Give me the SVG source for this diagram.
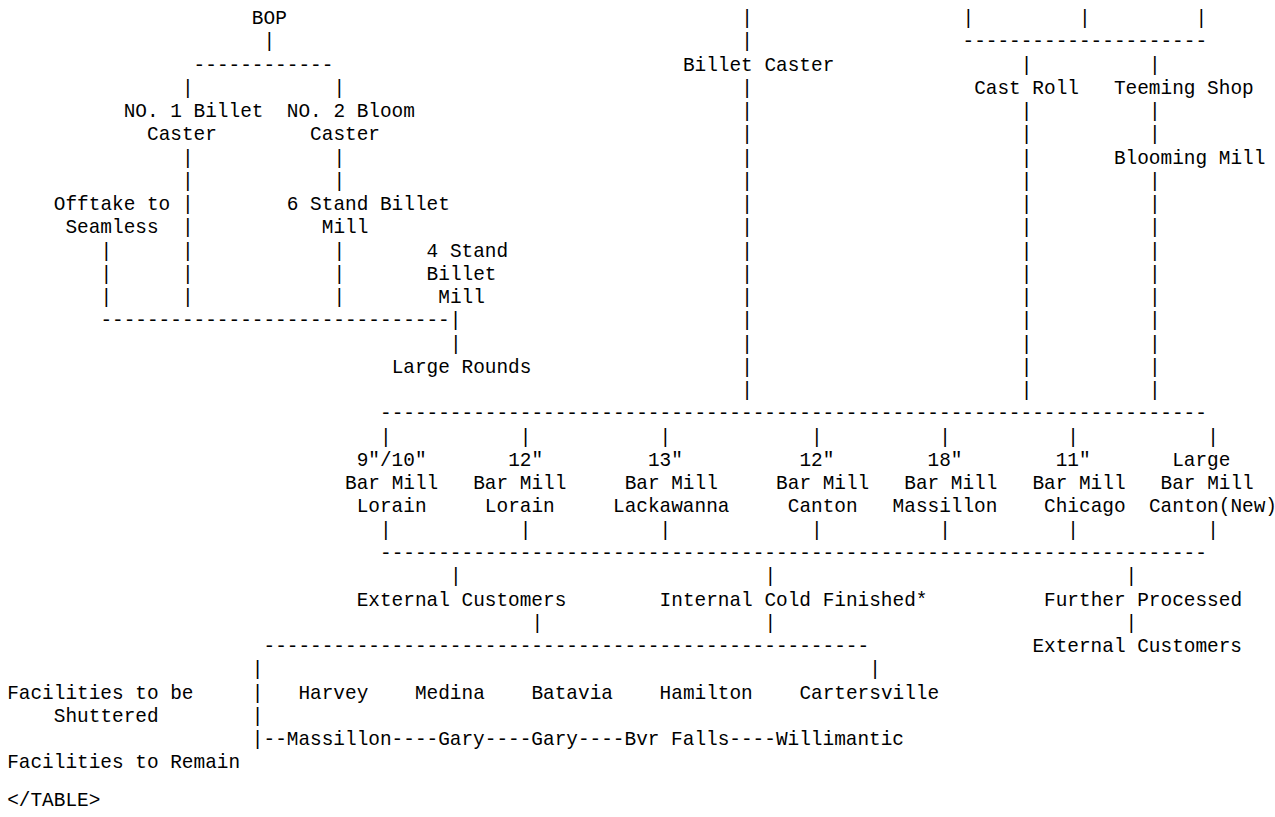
<svg xmlns="http://www.w3.org/2000/svg" width="1275" height="817" viewBox="0 0 1275 817">
<style>
text { font-family: "Liberation Mono", "Courier New", monospace; font-size: 19.42px; fill: #000; white-space: pre; }
</style>
<rect width="1275" height="817" fill="#fff"/>
<g id="connectors">
  <text x="263.5" y="47.26">|</text>
  <text x="193.6" y="70.52">------------</text>
  <text><tspan x="181.95" y="93.78">|</tspan><tspan x="181.95" y="163.56">|</tspan><tspan x="181.95" y="186.82">|</tspan><tspan x="181.95" y="210.08">|</tspan><tspan x="181.95" y="233.34">|</tspan><tspan x="181.95" y="256.6">|</tspan><tspan x="181.95" y="279.86">|</tspan><tspan x="181.95" y="303.12">|</tspan></text>
  <text><tspan x="333.4" y="93.78">|</tspan><tspan x="333.4" y="163.56">|</tspan><tspan x="333.4" y="186.82">|</tspan><tspan x="333.4" y="256.6">|</tspan><tspan x="333.4" y="279.86">|</tspan><tspan x="333.4" y="303.12">|</tspan></text>
  <text><tspan x="100.4" y="256.6">|</tspan><tspan x="100.4" y="279.86">|</tspan><tspan x="100.4" y="303.12">|</tspan></text>
  <text x="100.4" y="326.38">------------------------------|</text>
  <text x="449.9" y="349.64">|</text>
  <text><tspan x="741.15" y="24">|</tspan><tspan x="741.15" y="47.26">|</tspan><tspan x="741.15" y="93.78">|</tspan><tspan x="741.15" y="117.04">|</tspan><tspan x="741.15" y="140.3">|</tspan><tspan x="741.15" y="163.56">|</tspan><tspan x="741.15" y="186.82">|</tspan><tspan x="741.15" y="210.08">|</tspan><tspan x="741.15" y="233.34">|</tspan><tspan x="741.15" y="256.6">|</tspan><tspan x="741.15" y="279.86">|</tspan><tspan x="741.15" y="303.12">|</tspan><tspan x="741.15" y="326.38">|</tspan><tspan x="741.15" y="349.64">|</tspan><tspan x="741.15" y="372.9">|</tspan><tspan x="741.15" y="396.16">|</tspan></text>
  <text><tspan x="962.5" y="24">|</tspan><tspan x="1079" y="24">|</tspan><tspan x="1195.5" y="24">|</tspan></text>
  <text x="962.5" y="47.26">---------------------</text>
  <text><tspan x="1020.75" y="70.52">|</tspan><tspan x="1020.75" y="117.04">|</tspan><tspan x="1020.75" y="140.3">|</tspan><tspan x="1020.75" y="163.56">|</tspan><tspan x="1020.75" y="186.82">|</tspan><tspan x="1020.75" y="210.08">|</tspan><tspan x="1020.75" y="233.34">|</tspan><tspan x="1020.75" y="256.6">|</tspan><tspan x="1020.75" y="279.86">|</tspan><tspan x="1020.75" y="303.12">|</tspan><tspan x="1020.75" y="326.38">|</tspan><tspan x="1020.75" y="349.64">|</tspan><tspan x="1020.75" y="372.9">|</tspan><tspan x="1020.75" y="396.16">|</tspan></text>
  <text><tspan x="1148.9" y="70.52">|</tspan><tspan x="1148.9" y="117.04">|</tspan><tspan x="1148.9" y="140.3">|</tspan><tspan x="1148.9" y="186.82">|</tspan><tspan x="1148.9" y="210.08">|</tspan><tspan x="1148.9" y="233.34">|</tspan><tspan x="1148.9" y="256.6">|</tspan><tspan x="1148.9" y="279.86">|</tspan><tspan x="1148.9" y="303.12">|</tspan><tspan x="1148.9" y="326.38">|</tspan><tspan x="1148.9" y="349.64">|</tspan><tspan x="1148.9" y="372.9">|</tspan><tspan x="1148.9" y="396.16">|</tspan></text>
  <text x="380" y="419.42">-----------------------------------------------------------------------</text>
  <text><tspan x="380" y="442.68">|</tspan><tspan x="519.8" y="442.68">|</tspan><tspan x="659.6" y="442.68">|</tspan><tspan x="811.05" y="442.68">|</tspan><tspan x="939.2" y="442.68">|</tspan><tspan x="1067.35" y="442.68">|</tspan><tspan x="1207.15" y="442.68">|</tspan></text>
  <text><tspan x="380" y="535.72">|</tspan><tspan x="519.8" y="535.72">|</tspan><tspan x="659.6" y="535.72">|</tspan><tspan x="811.05" y="535.72">|</tspan><tspan x="939.2" y="535.72">|</tspan><tspan x="1067.35" y="535.72">|</tspan><tspan x="1207.15" y="535.72">|</tspan></text>
  <text x="380" y="558.98">-----------------------------------------------------------------------</text>
  <text><tspan x="449.9" y="582.24">|</tspan><tspan x="764.45" y="582.24">|</tspan><tspan x="1125.6" y="582.24">|</tspan></text>
  <text><tspan x="531.45" y="628.76">|</tspan><tspan x="764.45" y="628.76">|</tspan><tspan x="1125.6" y="628.76">|</tspan></text>
  <text x="263.5" y="652.02">----------------------------------------------------</text>
  <text><tspan x="251.85" y="675.28">|</tspan><tspan x="869.3" y="675.28">|</tspan><tspan x="251.85" y="698.54">|</tspan><tspan x="251.85" y="721.8">|</tspan></text>
</g>
<g id="bop"><text x="251.85" y="24">BOP</text></g>
<g id="no1-billet-caster"><text><tspan x="123.7" y="117.04">NO. 1 Billet</tspan><tspan x="147" y="140.3">Caster</tspan></text></g>
<g id="no2-bloom-caster"><text><tspan x="286.8" y="117.04">NO. 2 Bloom</tspan><tspan x="310.1" y="140.3">Caster</tspan></text></g>
<g id="offtake-seamless"><text><tspan x="53.8" y="210.08">Offtake to</tspan><tspan x="65.45" y="233.34">Seamless</tspan></text></g>
<g id="six-stand-billet-mill"><text><tspan x="286.8" y="210.08">6 Stand Billet</tspan><tspan x="321.75" y="233.34">Mill</tspan></text></g>
<g id="four-stand-billet-mill"><text><tspan x="426.6" y="256.6">4 Stand</tspan><tspan x="426.6" y="279.86">Billet</tspan><tspan x="438.25" y="303.12">Mill</tspan></text></g>
<g id="large-rounds"><text x="391.65" y="372.9">Large Rounds</text></g>
<g id="billet-caster"><text x="682.9" y="70.52">Billet Caster</text></g>
<g id="cast-roll"><text x="974.15" y="93.78">Cast Roll</text></g>
<g id="teeming-shop"><text x="1113.95" y="93.78">Teeming Shop</text></g>
<g id="blooming-mill"><text x="1113.95" y="163.56">Blooming Mill</text></g>
<g id="mill-lorain-9-10"><text><tspan x="356.7" y="465.94">9"/10"</tspan><tspan x="345.05" y="489.2">Bar Mill</tspan><tspan x="356.7" y="512.46">Lorain</tspan></text></g>
<g id="mill-lorain-12"><text><tspan x="508.15" y="465.94">12"</tspan><tspan x="473.2" y="489.2">Bar Mill</tspan><tspan x="484.85" y="512.46">Lorain</tspan></text></g>
<g id="mill-lackawanna-13"><text><tspan x="647.95" y="465.94">13"</tspan><tspan x="624.65" y="489.2">Bar Mill</tspan><tspan x="613" y="512.46">Lackawanna</tspan></text></g>
<g id="mill-canton-12"><text><tspan x="799.4" y="465.94">12"</tspan><tspan x="776.1" y="489.2">Bar Mill</tspan><tspan x="787.75" y="512.46">Canton</tspan></text></g>
<g id="mill-massillon-18"><text><tspan x="927.55" y="465.94">18"</tspan><tspan x="904.25" y="489.2">Bar Mill</tspan><tspan x="892.6" y="512.46">Massillon</tspan></text></g>
<g id="mill-chicago-11"><text><tspan x="1055.7" y="465.94">11"</tspan><tspan x="1032.4" y="489.2">Bar Mill</tspan><tspan x="1044.05" y="512.46">Chicago</tspan></text></g>
<g id="mill-canton-large"><text><tspan x="1172.2" y="465.94">Large</tspan><tspan x="1160.55" y="489.2">Bar Mill</tspan><tspan x="1148.9" y="512.46">Canton(New)</tspan></text></g>
<g id="external-customers"><text x="356.7" y="605.5">External Customers</text></g>
<g id="internal-cold-finished"><text x="659.6" y="605.5">Internal Cold Finished*</text></g>
<g id="further-processed"><text x="1044.05" y="605.5">Further Processed</text></g>
<g id="external-customers-2"><text x="1032.4" y="652.02">External Customers</text></g>
<g id="facilities-shuttered-label"><text><tspan x="7.2" y="698.54">Facilities to be</tspan><tspan x="53.8" y="721.8">Shuttered</tspan></text></g>
<g id="facilities-shuttered"><text><tspan x="298.45" y="698.54">Harvey</tspan><tspan x="414.95" y="698.54">Medina</tspan><tspan x="531.45" y="698.54">Batavia</tspan><tspan x="659.6" y="698.54">Hamilton</tspan><tspan x="799.4" y="698.54">Cartersville</tspan></text></g>
<g id="facilities-remain"><text x="251.85" y="745.06">|--Massillon----Gary----Gary----Bvr Falls----Willimantic</text></g>
<g id="facilities-remain-label"><text x="7.2" y="768.32">Facilities to Remain</text></g>
<g id="table-end"><text x="7.2" y="805.7">&lt;/TABLE&gt;</text></g>
</svg>
